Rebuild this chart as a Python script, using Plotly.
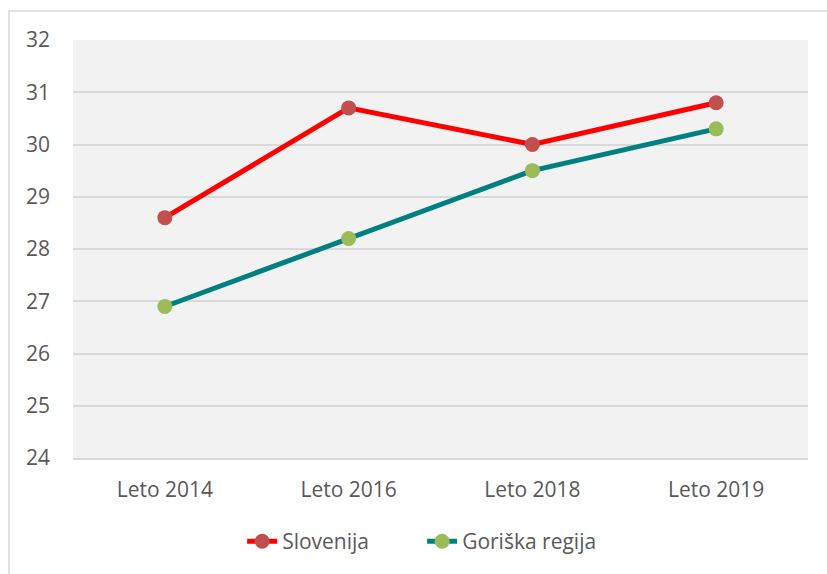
import plotly.graph_objects as go

# Data
categories = ['Leto 2014', 'Leto 2016', 'Leto 2018', 'Leto 2019']
slovenija = [28.6, 30.7, 30.0, 30.8]
goriska = [26.9, 28.2, 29.5, 30.3]

fig = go.Figure()

fig.add_trace(go.Scatter(
    x=categories, y=slovenija, name='Slovenija',
    mode='lines+markers',
    line=dict(color='#ff0000', width=5),
    marker=dict(color='#c0504d', size=15),
))
fig.add_trace(go.Scatter(
    x=categories, y=goriska, name='Goriška regija',
    mode='lines+markers',
    line=dict(color='#008080', width=5),
    marker=dict(color='#9bbb59', size=15),
))

# outer frame (cropped on the right and bottom in the original)
fig.add_shape(type='rect', xref='paper', yref='paper',
              x0=-0.0871, x1=1.05, y0=-0.35, y1=1.0694,
              line=dict(color='#d9d9d9', width=1.5), layer='below')

fig.update_layout(
    width=827, height=574,
    margin=dict(l=73, r=19, t=40, b=116),
    paper_bgcolor='white',
    plot_bgcolor='#f2f2f2',
    font=dict(family='Open Sans, Lato, sans-serif', size=21, color='#595959'),
    legend=dict(orientation='h', x=0.475, xanchor='center', y=-0.2, yanchor='middle',
                entrywidth=135, font=dict(size=21, color='#595959')),
    xaxis=dict(
        type='category', range=[-0.5, 3.5],
        showgrid=False, showline=True, linecolor='#d9d9d9', linewidth=2,
        ticks='', ticklabelstandoff=12,
    ),
    yaxis=dict(
        range=[24, 32], dtick=1,
        showgrid=True, gridcolor='#d9d9d9', gridwidth=2,
        zeroline=False, showline=False,
        ticks='', ticklabelstandoff=22,
    ),
)

# drop the page's default body margin so the chart sits at the window's corner
fig.write_html("out.html", config={'displayModeBar': False},
               post_script="document.body.style.margin='0';")
